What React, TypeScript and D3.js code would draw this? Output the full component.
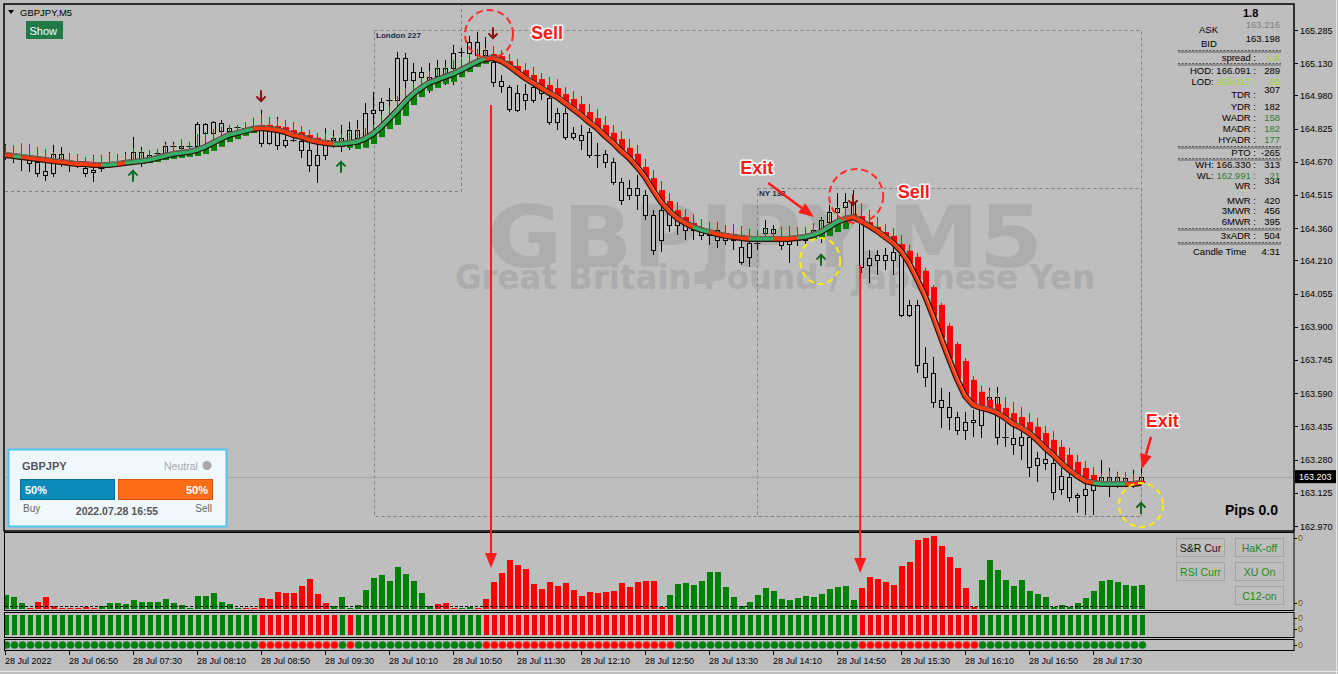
import React from 'react';
import * as d3 from 'd3';

if (typeof document !== 'undefined') {
  document.body.style.margin = '0';
  document.body.style.background = '#bebebe';
}

// ---------- DATA (GBPJPY M5, 143 bars) ----------
const openP = [
  164.702,164.692,164.683,164.688,164.669,164.627,164.618,164.706,164.669,164.664,
  164.641,164.632,164.641,164.655,164.659,164.664,164.678,164.716,164.692,164.706,
  164.711,164.744,164.735,164.739,164.744,164.846,164.804,164.851,164.814,164.828,
  164.828,164.823,164.832,164.758,164.828,164.749,164.772,164.767,164.725,164.655,
  164.702,164.772,164.781,164.749,164.818,164.781,164.898,164.912,164.958,164.958,
  165.154,165.052,165.089,165.066,165.070,165.075,165.108,165.178,165.178,165.229,
  165.168,165.136,165.047,165.019,164.912,164.986,164.958,165.010,164.968,164.856,
  164.898,164.786,164.795,164.809,164.702,164.706,164.669,164.576,164.515,164.548,
  164.515,164.422,164.305,164.445,164.375,164.408,164.352,164.361,164.329,164.352,
  164.305,164.329,164.272,164.225,164.291,164.338,164.356,164.310,164.286,164.305,
  164.305,164.324,164.343,164.389,164.436,164.459,164.422,164.389,164.189,164.212,
  164.235,164.212,164.235,163.955,164.002,163.731,163.684,163.558,163.525,163.479,
  163.418,163.456,163.442,163.544,163.572,163.385,163.381,163.349,163.385,163.255,
  163.283,163.264,163.143,163.199,163.105,163.115,163.138,163.180,163.199,163.180,
  163.194,163.176,163.180,
];
const highP = [
  164.753,164.702,164.688,164.711,164.702,164.706,164.749,164.739,164.678,164.702,
  164.664,164.702,164.678,164.716,164.702,164.716,164.786,164.739,164.716,164.725,
  164.763,164.763,164.772,164.758,164.856,164.851,164.860,164.865,164.837,164.842,
  164.851,164.875,164.912,164.842,164.879,164.795,164.842,164.809,164.772,164.749,
  164.828,164.818,164.842,164.856,164.865,164.944,164.996,164.968,165.014,165.183,
  165.178,165.131,165.112,165.131,165.145,165.145,165.215,165.201,165.257,165.276,
  165.252,165.168,165.075,165.028,165.028,165.033,165.052,165.028,165.005,164.921,
  164.921,164.832,164.842,164.828,164.758,164.725,164.688,164.595,164.585,164.609,
  164.538,164.445,164.492,164.468,164.436,164.445,164.389,164.398,164.389,164.375,
  164.361,164.343,164.305,164.305,164.315,164.398,164.375,164.329,164.315,164.324,
  164.361,164.384,164.412,164.469,164.524,164.524,164.538,164.408,164.258,164.258,
  164.268,164.305,164.268,164.025,164.025,163.805,163.759,163.615,163.596,163.503,
  163.503,163.512,163.558,163.615,163.619,163.451,163.432,163.418,163.418,163.316,
  163.325,163.325,163.241,163.232,163.124,163.185,163.199,163.278,163.241,163.223,
  163.218,163.232,163.241,
];
const lowP = [
  164.678,164.664,164.627,164.623,164.599,164.580,164.599,164.646,164.623,164.641,
  164.599,164.576,164.623,164.650,164.646,164.655,164.664,164.646,164.678,164.688,
  164.678,164.706,164.716,164.716,164.739,164.758,164.786,164.786,164.786,164.809,
  164.804,164.809,164.739,164.749,164.725,164.735,164.763,164.688,164.623,164.571,
  164.678,164.735,164.716,164.725,164.749,164.772,164.809,164.888,164.902,164.902,
  164.972,165.014,164.991,164.991,165.028,165.028,165.028,165.159,165.145,165.112,
  165.145,165.019,164.991,164.902,164.902,164.912,164.944,164.958,164.842,164.818,
  164.772,164.772,164.725,164.688,164.641,164.641,164.562,164.468,164.492,164.445,
  164.398,164.235,164.249,164.343,164.329,164.305,164.305,164.305,164.282,164.268,
  164.282,164.258,164.189,164.179,164.258,164.315,164.305,164.258,164.198,164.277,
  164.282,164.315,164.291,164.365,164.398,164.384,164.412,164.151,164.104,164.142,
  164.165,164.142,163.945,163.945,163.684,163.619,163.521,163.428,163.418,163.395,
  163.372,163.385,163.381,163.512,163.349,163.339,163.302,163.278,163.199,163.176,
  163.232,163.092,163.115,163.083,163.031,163.022,163.022,163.152,163.105,163.148,
  163.152,163.148,163.171,
];
const closeP = [
  164.692,164.688,164.683,164.664,164.618,164.609,164.706,164.683,164.664,164.659,
  164.618,164.623,164.636,164.664,164.664,164.678,164.716,164.678,164.702,164.711,
  164.744,164.739,164.744,164.744,164.846,164.804,164.856,164.814,164.828,164.832,
  164.823,164.837,164.758,164.828,164.749,164.772,164.767,164.725,164.655,164.702,
  164.772,164.781,164.749,164.818,164.781,164.898,164.912,164.949,164.953,165.154,
  165.052,165.089,165.066,165.052,165.108,165.108,165.178,165.182,165.229,165.168,
  165.192,165.042,165.024,164.916,164.991,164.958,165.019,164.991,164.856,164.898,
  164.786,164.804,164.772,164.702,164.697,164.669,164.576,164.492,164.548,164.515,
  164.422,164.258,164.445,164.375,164.408,164.352,164.361,164.329,164.352,164.305,
  164.329,164.305,164.203,164.291,164.286,164.361,164.338,164.282,164.310,164.300,
  164.324,164.352,164.398,164.436,164.455,164.483,164.483,164.179,164.221,164.235,
  164.212,164.249,163.955,164.002,163.722,163.665,163.549,163.525,163.479,163.418,
  163.456,163.465,163.544,163.572,163.385,163.381,163.353,163.385,163.245,163.288,
  163.264,163.129,163.204,163.105,163.115,163.143,163.162,163.199,163.180,163.199,
  163.176,163.180,163.199,
];
// smoothed trend line
const maLine = [
  164.702,164.697,164.692,164.688,164.683,164.678,164.673,164.669,164.664,164.659,
  164.659,164.655,164.655,164.655,164.659,164.664,164.669,164.673,164.678,164.688,
  164.697,164.706,164.711,164.716,164.725,164.739,164.758,164.777,164.795,164.804,
  164.814,164.823,164.828,164.823,164.818,164.809,164.795,164.786,164.772,164.763,
  164.758,164.753,164.753,164.758,164.763,164.777,164.800,164.832,164.870,164.907,
  164.949,164.986,165.014,165.038,165.052,165.066,165.080,165.098,165.117,165.136,
  165.150,165.154,165.140,165.117,165.089,165.061,165.038,165.014,164.991,164.972,
  164.944,164.916,164.888,164.855,164.827,164.790,164.758,164.720,164.688,164.646,
  164.599,164.538,164.482,164.440,164.407,164.384,164.365,164.352,164.342,164.333,
  164.324,164.319,164.314,164.310,164.310,164.310,164.310,164.310,164.310,164.314,
  164.319,164.328,164.342,164.365,164.389,164.403,164.412,164.393,164.370,164.347,
  164.319,164.291,164.253,164.198,164.123,164.044,163.950,163.848,163.750,163.656,
  163.577,163.535,163.521,163.512,163.498,163.474,163.446,163.428,163.404,163.372,
  163.334,163.302,163.264,163.232,163.204,163.180,163.171,163.166,163.166,163.166,
  163.166,163.166,163.171,
];
// heiken-ashi body extent from the line, pips (+ red above, - green below)
const haBody = [
  0.9,0.9,-0.9,0.9,0.9,0.9,0.9,0.9,0.9,0.9,
  0.9,0.9,0.9,-0.9,-0.9,0.9,-0.9,-1.4,-1.4,-1.9,
  -1.9,-2.3,-2.3,-2.3,-2.8,-3.3,-3.7,-3.7,-3.3,-2.8,
  -2.3,-1.9,1.4,1.9,1.9,2.3,2.3,2.3,2.3,1.9,
  1.4,0.9,-1.4,-2.3,-3.3,-4.2,-4.7,-4.7,-4.7,-6.5,
  -6.5,-5.1,-4.2,-3.7,-3.7,-3.3,-3.7,-3.3,-2.8,-2.3,
  -2.3,1.9,2.3,2.3,2.8,3.7,3.7,4.2,3.7,4.2,
  4.2,4.7,5.1,4.7,4.7,5.1,4.7,5.6,4.7,6.1,
  4.7,5.6,5.6,4.7,3.7,2.8,1.9,-0.9,-0.9,0.9,
  1.4,1.4,1.4,1.4,-0.9,-0.9,-0.9,0.9,0.9,0.9,
  -0.9,-1.9,-2.8,-4.2,-4.7,-4.7,1.4,2.3,1.9,1.9,
  2.3,3.3,3.3,5.6,10.3,11.7,13.5,15.4,15.4,16.3,
  16.3,11.7,7.5,4.7,4.2,4.7,5.1,5.1,5.1,6.1,
  7.0,7.0,7.5,7.0,6.5,6.1,3.7,-0.9,-0.9,-0.9,
  -0.9,0.9,0.9,
];
// heiken-ashi wick extent above the line, pips
const haWick = [
  4.6,5.0,6.5,6.5,5.6,5.1,4.2,3.7,4.7,4.7,
  3.3,4.2,4.7,5.6,4.7,4.2,6.5,5.1,4.7,4.2,
  5.6,4.7,6.5,4.7,7.5,7.0,6.5,5.6,4.7,3.7,
  4.2,5.1,6.5,5.6,5.1,5.6,6.1,5.1,4.7,4.2,
  4.7,3.7,4.7,5.6,6.1,5.1,4.2,5.6,6.1,7.0,
  6.5,5.1,4.7,5.6,6.1,4.7,6.5,5.1,5.6,6.1,
  5.1,5.6,5.1,5.6,6.1,7.0,7.5,7.0,7.5,8.4,
  7.5,8.4,8.9,8.4,8.9,9.3,8.4,9.3,8.9,10.3,
  8.4,9.3,9.8,8.4,7.5,6.5,6.1,5.1,4.7,5.6,
  5.1,6.1,5.6,4.7,4.2,5.1,4.7,5.6,6.1,5.1,
  4.7,5.6,6.1,6.5,7.0,6.1,6.5,8.4,7.5,6.5,
  6.1,7.0,7.5,8.4,12.1,13.1,14.5,16.3,16.8,17.3,
  17.7,13.5,10.3,9.3,8.9,9.8,10.3,9.8,9.3,10.3,
  10.3,11.2,10.7,10.3,9.8,9.3,7.5,4.7,6.1,5.1,
  5.6,4.7,4.2,
];
// histogram (sub window 1)
const histVals = [
  14,12,6,1,7,12,3,1,1,1,
  2,1,3,6,6,5,9,7,7,7,
  10,6,4,1,13,13,16,7,5,1,
  1,1,11,10,17,16,16,23,30,15,
  6,3,12,1,4,19,31,34,28,42,
  35,28,16,3,5,6,1,1,2,1,
  10,27,36,49,44,40,25,20,27,23,
  26,19,13,17,16,17,18,26,22,27,
  28,28,2,14,25,26,24,28,37,37,
  22,12,3,7,14,21,18,10,9,11,
  13,12,15,20,22,23,9,21,32,30,
  27,24,43,47,69,71,73,63,52,41,
  21,2,29,49,39,29,23,29,18,15,
  12,2,4,2,6,11,18,28,29,27,
  24,23,24,
];
const histColorRuns: [string, number][] = [['G',3],['R',9],['G',18],['R',11],['G',13],['R',3],['G',2],['R',24],['G',24],['R',15],['G',21]];
const stripColorRuns: [string, number][] = [['G',32],['R',10],['G',1],['R',1],['G',16],['R',24],['G',23],['R',15],['G',21]];
const histLevel = 3;

const timeTickBars = [0,8,16,24,32,40,48,56,64,72,80,88,96,104,112,120,128,136];
const timeLabels = ['28 Jul 2022','28 Jul 06:50','28 Jul 07:30','28 Jul 08:10','28 Jul 08:50','28 Jul 09:30','28 Jul 10:10','28 Jul 10:50','28 Jul 11:30','28 Jul 12:10','28 Jul 12:50','28 Jul 13:30','28 Jul 14:10','28 Jul 14:50','28 Jul 15:30','28 Jul 16:10','28 Jul 16:50','28 Jul 17:30'];
const priceTicks = [165.285,165.130,164.980,164.825,164.670,164.515,164.360,164.210,164.055,163.900,163.745,163.590,163.435,163.280,163.125,162.970];

const buySignals = [{bar:16, price:164.604},{bar:42, price:164.646},{bar:102, price:164.212},{bar:142, price:163.054}];
const sellSignals = [{bar:32, price:164.977},{bar:61, price:165.271},{bar:106, price:164.492}];
const bidPrice = 163.198;
const lastPrice = '163.203';

const FONT = "'Liberation Sans', Arial, sans-serif";
const BG = '#bebebe';
const RED = '#ff0000';
const GREEN = '#008000';
const YG = '#9fdc1f';
const DG = '#2e7d32';

const expand = (runs: [string, number][]) => runs.flatMap(([c, k]) => Array(k).fill(c));

function UpArrow({ cx, cy }: { cx: number; cy: number }) {
  return (
    <g stroke="#0b6b1f" strokeWidth={2} fill="none" strokeLinecap="round">
      <path d={`M${cx - 4},${cy - 1} L${cx},${cy - 5} L${cx + 4},${cy - 1}`} />
      <path d={`M${cx},${cy - 5} L${cx},${cy + 5}`} />
    </g>
  );
}
function DownArrow({ cx, cy }: { cx: number; cy: number }) {
  return (
    <g stroke="#8b1010" strokeWidth={2} fill="none" strokeLinecap="round">
      <path d={`M${cx - 4},${cy + 1} L${cx},${cy + 5} L${cx + 4},${cy + 1}`} />
      <path d={`M${cx},${cy + 5} L${cx},${cy - 5}`} />
    </g>
  );
}
function Label({ x, y, t }: { x: number; y: number; t: string }) {
  return (
    <text x={x} y={y} fontFamily={FONT} fontWeight="bold" fontSize={18} fill="#ff1a1a"
      stroke="#ffffff" strokeWidth={3} paintOrder="stroke" strokeLinejoin="round">{t}</text>
  );
}
function ArrowLine({ x1, y1, x2, y2, w = 2 }: { x1: number; y1: number; x2: number; y2: number; w?: number }) {
  const ang = Math.atan2(y2 - y1, x2 - x1);
  const L = 15, hw = 6;
  const bx = x2 - L * Math.cos(ang), by = y2 - L * Math.sin(ang);
  const px = -Math.sin(ang) * hw, py = Math.cos(ang) * hw;
  return (
    <g>
      <line x1={x1} y1={y1} x2={bx} y2={by} stroke="#ff1a1a" strokeWidth={w} />
      <polygon points={`${x2},${y2} ${bx + px},${by + py} ${bx - px},${by - py}`} fill="#ff1a1a" />
    </g>
  );
}

export default function App() {
  const n = closeP.length;
  const x = d3.scaleLinear().domain([0, n - 1]).range([5, 1141]);
  const y = d3.scaleLinear().domain([162.970, 165.285]).range([526, 30]);
  const hy = d3.scaleLinear().domain([0, 76]).range([609, 533]);
  const histColors = expand(histColorRuns);
  const stripColors = expand(stripColorRuns);
  const X = (i: number) => Math.round(x(i));

  const lineGen = d3.line<number>().x((_, i) => x(i)).y((d) => y(d));
  const segs: { color: string; from: number; to: number }[] = [];
  for (let i = 1; i < n; i++) {
    const c = haBody[i] >= 0 ? 'R' : 'G';
    const last = segs[segs.length - 1];
    if (last && last.color === c) last.to = i;
    else segs.push({ color: c, from: i - 1, to: i });
  }
  const segPath = (s: { from: number; to: number }) =>
    d3.line<number>().x((d) => x(d)).y((d) => y(maLine[d]))(d3.range(s.from, s.to + 1));

  const bidY = y(bidPrice);

  const infoRows = [
    { l: 'HOD: 166.091 :', v: '289', ly: 74, vy: 74 },
    { l: 'TDR :', v: '307', ly: 98, vy: 93 },
    { l: 'YDR :', v: '182', ly: 110, vy: 110 },
    { l: 'WADR :', v: '158', ly: 121, vy: 121, vc: DG },
    { l: 'MADR :', v: '182', ly: 132, vy: 132, vc: DG },
    { l: 'HYADR :', v: '177', ly: 143, vy: 143, vc: DG },
    { l: 'PTO :', v: '-265', ly: 156, vy: 156 },
    { l: 'WH: 166.330 :', v: '313', ly: 168, vy: 168 },
    { l: 'WR :', v: '334', ly: 189, vy: 184 },
    { l: 'MWR :', v: '420', ly: 204, vy: 204 },
    { l: '3MWR :', v: '456', ly: 214, vy: 214 },
    { l: '6MWR :', v: '395', ly: 225, vy: 225 },
    { l: '3xADR :', v: '504', ly: 239, vy: 239 },
  ];
  const seps = [51, 64, 147, 159, 229, 243];
  const buttons = [
    { t: 'S&R Cur', x: 1176, y: 538, c: '#111' },
    { t: 'HaK-off', x: 1235, y: 538, c: '#1a8a1a' },
    { t: 'RSI Curr', x: 1176, y: 562, c: '#1a8a1a' },
    { t: 'XU On', x: 1235, y: 562, c: '#1a8a1a' },
    { t: 'C12-on', x: 1235, y: 586, c: '#1a8a1a' },
  ];

  return (
    <svg width={1338} height={674} style={{ display: 'block', background: BG }} fontFamily={FONT}>
      <defs>
        <clipPath id="mainClip"><rect x={5} y={5} width={1289} height={525} /></clipPath>
        <clipPath id="subClip"><rect x={5} y={533} width={1289} height={118} /></clipPath>
      </defs>
      <rect x={0} y={0} width={1338} height={674} fill={BG} />

      {/* watermark */}
      <text x={487} y={267} fontFamily="'DejaVu Sans', sans-serif" fontWeight="bold" fontSize={86}
        fill="#adadad" textLength={556} lengthAdjust="spacingAndGlyphs">GBPJPY,M5</text>
      <text x={455} y={289} fontFamily="'DejaVu Sans', sans-serif" fontWeight="bold" fontSize={34}
        fill="#adadad" textLength={640} lengthAdjust="spacingAndGlyphs">Great Britain Pound / Japanese Yen</text>

      {/* session boxes */}
      <g stroke="#808080" strokeDasharray="3,3" fill="none" strokeWidth={1}>
        <path d="M5,191.5 H461.5 V5" />
        <rect x={374.5} y={30.5} width={767} height={486} />
        <rect x={757.5} y={188.5} width={384} height={328} />
      </g>
      <text x={376} y={38} fontSize={8} fontWeight="bold" fill="#1c2a4a">London 227</text>
      <text x={759} y={196} fontSize={8} fontWeight="bold" fill="#1c2a4a">NY 138</text>

      {/* bid line */}
      <line x1={5} x2={1294} y1={Math.round(bidY) + 0.5} y2={Math.round(bidY) + 0.5} stroke="#a6a6a6" />

      <g clipPath="url(#mainClip)">
        {/* candles */}
        {closeP.map((c, i) => {
          const cx = X(i) + 0.5;
          const o = openP[i];
          const top = y(Math.max(o, c)), bot = y(Math.min(o, c));
          const yh = y(highP[i]), yl = y(lowP[i]);
          const doji = bot - top < 1.5;
          return (
            <g key={'c' + i} stroke="#000" strokeWidth={1}>
              <line x1={cx} x2={cx} y1={yh} y2={top} />
              <line x1={cx} x2={cx} y1={bot} y2={yl} />
              {doji ? (
                <line x1={cx - 3} x2={cx + 3} y1={Math.round(top) + 0.5} y2={Math.round(top) + 0.5} />
              ) : (
                <rect x={cx - 2} y={Math.round(top) + 0.5} width={4} height={Math.max(1, Math.round(bot - top))} fill={BG} />
              )}
            </g>
          );
        })}
        {/* HA wicks */}
        {maLine.map((m, i) => (
          <line key={'w' + i} x1={X(i) + 0.5} x2={X(i) + 0.5} y1={y(m)} y2={y(m + haWick[i] / 100)}
            stroke={haBody[i] >= 0 ? RED : GREEN} strokeWidth={1} />
        ))}
        {/* HA bodies */}
        {maLine.map((m, i) => {
          const a = y(m), b = y(m + haBody[i] / 100);
          return (
            <rect key={'b' + i} x={X(i) - 2} y={Math.min(a, b)} width={6} height={Math.abs(b - a)}
              fill={haBody[i] >= 0 ? RED : GREEN} />
          );
        })}
        {/* trend line */}
        <path d={lineGen(maLine) || ''} stroke="#2a1008" strokeWidth={6} fill="none" strokeLinejoin="round" />
        {segs.map((s, k) => (
          <path key={'s' + k} d={segPath(s) || ''} stroke={s.color === 'R' ? '#ff3c10' : '#34b06a'}
            strokeWidth={3.6} fill="none" strokeLinejoin="round" />
        ))}
        <path d={lineGen(maLine) || ''} stroke="#e8d8d0" strokeWidth={0.8} fill="none" opacity={0.55}
          transform="translate(0,-2.4)" />

        {/* signals */}
        {buySignals.map((s, k) => <UpArrow key={'u' + k} cx={X(s.bar)} cy={y(s.price)} />)}
        {sellSignals.map((s, k) => <DownArrow key={'d' + k} cx={X(s.bar)} cy={y(s.price)} />)}
      </g>

      {/* frames */}
      <rect x={4} y={4} width={1290} height={527} fill="none" stroke="#000" strokeWidth={1.5} />
      <rect x={4.5} y={532.5} width={1289.5} height={78} fill="none" stroke="#000" />
      <rect x={4.5} y={612.5} width={1289.5} height={25} fill="none" stroke="#000" />
      <rect x={4.5} y={639.5} width={1289.5} height={11} fill="none" stroke="#000" />
      <line x1={1336.5} x2={1336.5} y1={0} y2={674} stroke="#e6e6e6" />
      <line x1={0} x2={1338} y1={671.5} y2={671.5} stroke="#e6e6e6" />

      {/* price axis */}
      {priceTicks.map((p) => (
        <g key={'p' + p}>
          <line x1={1294} x2={1298} y1={Math.round(y(p)) + 0.5} y2={Math.round(y(p)) + 0.5} stroke="#000" />
          <text x={1300} y={y(p) + 3.5} fontSize={9} fill="#000">{p.toFixed(3)}</text>
        </g>
      ))}
      <rect x={1295} y={bidY - 7} width={41} height={13} fill="#000" />
      <text x={1299} y={bidY + 3.2} fontSize={9} fill="#fff">{lastPrice}</text>

      {/* sub windows */}
      <g clipPath="url(#subClip)">
        {histVals.map((v, i) => (
          <rect key={'h' + i} x={X(i) - 2} y={hy(v)} width={6} height={hy(0) - hy(v)}
            fill={histColors[i] === 'R' ? RED : GREEN} />
        ))}
        <line x1={5} x2={1143} y1={Math.round(hy(histLevel)) + 0.5} y2={Math.round(hy(histLevel)) + 0.5}
          stroke="#000" strokeDasharray="3,2" />
        {stripColors.map((c, i) => (
          <rect key={'st' + i} x={X(i) - 1} y={615} width={5} height={20} fill={c === 'R' ? RED : GREEN} />
        ))}
        {stripColors.map((c, i) => (
          <circle key={'dt' + i} cx={X(i) + 1.5} cy={645} r={3.6} fill={c === 'R' ? RED : GREEN}
            stroke={c === 'R' ? '#ff3030' : '#1f7f70'} strokeWidth={0.6} />
        ))}
      </g>
      {[[541, 538], [606, 603], [621, 618], [632, 629], [648, 645]].map(([ty, ly], k) => (
        <g key={'z' + k}>
          <line x1={1294} x2={1297} y1={ly + 0.5} y2={ly + 0.5} stroke="#000" />
          <text x={1298} y={ty} fontSize={9} fill="#7a5a10">0</text>
        </g>
      ))}
      {buttons.map((b) => (
        <g key={b.t}>
          <rect x={b.x + 0.5} y={b.y + 0.5} width={48} height={18} fill={BG} stroke="#a4a4a4" />
          <text x={b.x + 24.5} y={b.y + 13.5} textAnchor="middle" fontSize={10.5} fill={b.c}>{b.t}</text>
        </g>
      ))}

      {/* time axis */}
      {timeTickBars.map((b, k) => (
        <g key={'t' + k}>
          <line x1={X(b) + 0.5} x2={X(b) + 0.5} y1={651} y2={655} stroke="#000" />
          <text x={X(b)} y={664} fontSize={9} fill="#000">{timeLabels[k]}</text>
        </g>
      ))}

      {/* top-left */}
      <path d="M8,10 L14,10 L11,14 Z" fill="#000" />
      <text x={20} y={16} fontSize={9.5} fill="#000">GBPJPY,M5</text>
      <rect x={26} y={21} width={37} height={18} fill="#1f7a47" />
      <text x={29.5} y={34.5} fontSize={11} fill="#fff">Show</text>

      {/* right info panel */}
      <text x={1243} y={17} fontSize={11} fontWeight="bold" fill="#000">1.8</text>
      <text x={1199} y={33} fontSize={9.5} fill="#000">ASK</text>
      <text x={1280} y={28} fontSize={9.5} fill="#808080" textAnchor="end">163.216</text>
      <text x={1201} y={47} fontSize={9.5} fill="#000">BID</text>
      <text x={1280} y={42} fontSize={9.5} fill="#000" textAnchor="end">163.198</text>
      {seps.map((s) => (
        <g key={'sp' + s}>
          <line x1={1178} x2={1281} y1={s - 0.5} y2={s - 0.5} stroke="#222" strokeWidth={0.7} strokeDasharray="2,1.5" />
          <line x1={1178} x2={1281} y1={s + 1} y2={s + 1} stroke="#222" strokeWidth={0.6} />
        </g>
      ))}
      <text x={1256} y={61} fontSize={9.5} fill="#000" textAnchor="end">spread :</text>
      <text x={1280} y={61} fontSize={9.5} fill={YG} textAnchor="end">1.8</text>
      {infoRows.map((r) => (
        <g key={r.l}>
          <text x={1256} y={r.ly} fontSize={9.5} fill="#000" textAnchor="end">{r.l}</text>
          <text x={1280} y={r.vy} fontSize={9.5} fill={r.vc || '#000'} textAnchor="end">{r.v}</text>
        </g>
      ))}
      <text x={1256} y={85} fontSize={9.5} textAnchor="end"><tspan fill="#000">LOD: </tspan><tspan fill={YG}>163.017 :</tspan></text>
      <text x={1280} y={85} fontSize={9.5} fill={YG} textAnchor="end">19</text>
      <text x={1256} y={179} fontSize={9.5} textAnchor="end"><tspan fill="#000">WL: </tspan><tspan fill={DG}>162.991 :</tspan></text>
      <text x={1280} y={179} fontSize={9.5} fill={DG} textAnchor="end">21</text>
      <text x={1193} y={255} fontSize={9.5} fill="#000">Candle Time</text>
      <text x={1280} y={255} fontSize={9.5} fill="#000" textAnchor="end">4:31</text>

      <text x={1225} y={515} fontSize={14} fontWeight="bold" fill="#000">Pips 0.0</text>

      {/* sentiment box */}
      <rect x={8.5} y={449.5} width={218} height={77} fill="#eff8fd" stroke="#4fc3ef" strokeWidth={2} />
      <text x={22} y={470} fontSize={11} fontWeight="bold" fill="#555">GBPJPY</text>
      <text x={164} y={470} fontSize={10.5} fill="#a8a8a8">Neutral</text>
      <circle cx={207} cy={465.5} r={4.5} fill="#a8a8a8" />
      <rect x={20.5} y={479.5} width={94} height={20} fill="#0b8cb8" stroke="#08729a" />
      <text x={25} y={494} fontSize={11} fontWeight="bold" fill="#fff">50%</text>
      <rect x={118.5} y={479.5} width={94} height={20} fill="#ff6c17" stroke="#d9530a" />
      <text x={208} y={494} fontSize={11} fontWeight="bold" fill="#fff" textAnchor="end">50%</text>
      <text x={23} y={512} fontSize={10} fill="#666">Buy</text>
      <text x={117} y={515} fontSize={10.5} fill="#555" textAnchor="middle" fontWeight="bold">2022.07.28 16:55</text>
      <text x={212} y={512} fontSize={10} fill="#666" textAnchor="end">Sell</text>

      {/* annotations */}
      <circle cx={x(60.5)} cy={y(165.266)} r={24} fill="none" stroke="#ff2a2a" strokeWidth={2} strokeDasharray="7,4" />
      <circle cx={x(106.4)} cy={y(164.510)} r={27} fill="none" stroke="#ff2a2a" strokeWidth={2} strokeDasharray="7,4" />
      <ellipse cx={x(101.9)} cy={y(164.207)} rx={20} ry={23} fill="none" stroke="#ffee00" strokeWidth={2} strokeDasharray="6,4" />
      <circle cx={x(142)} cy={y(163.068)} r={22} fill="none" stroke="#ffee00" strokeWidth={2} strokeDasharray="6,4" />
      <Label x={x(65.75)} y={y(165.243)} t="Sell" />
      <Label x={x(111.6)} y={y(164.501)} t="Sell" />
      <Label x={x(91.9)} y={y(164.613)} t="Exit" />
      <Label x={x(142.6)} y={y(163.432)} t="Exit" />
      <ArrowLine x1={x(60.75)} y1={y(164.935)} x2={x(60.75)} y2={hy(41)} />
      <ArrowLine x1={x(106.9)} y1={y(164.188)} x2={x(106.9)} y2={hy(36)} />
      <ArrowLine x1={x(95.4)} y1={y(164.571)} x2={x(101.1)} y2={y(164.412)} w={2.5} />
      <ArrowLine x1={x(143.25)} y1={y(163.386)} x2={x(142.1)} y2={y(163.236)} w={2.5} />
    </svg>
  );
}
